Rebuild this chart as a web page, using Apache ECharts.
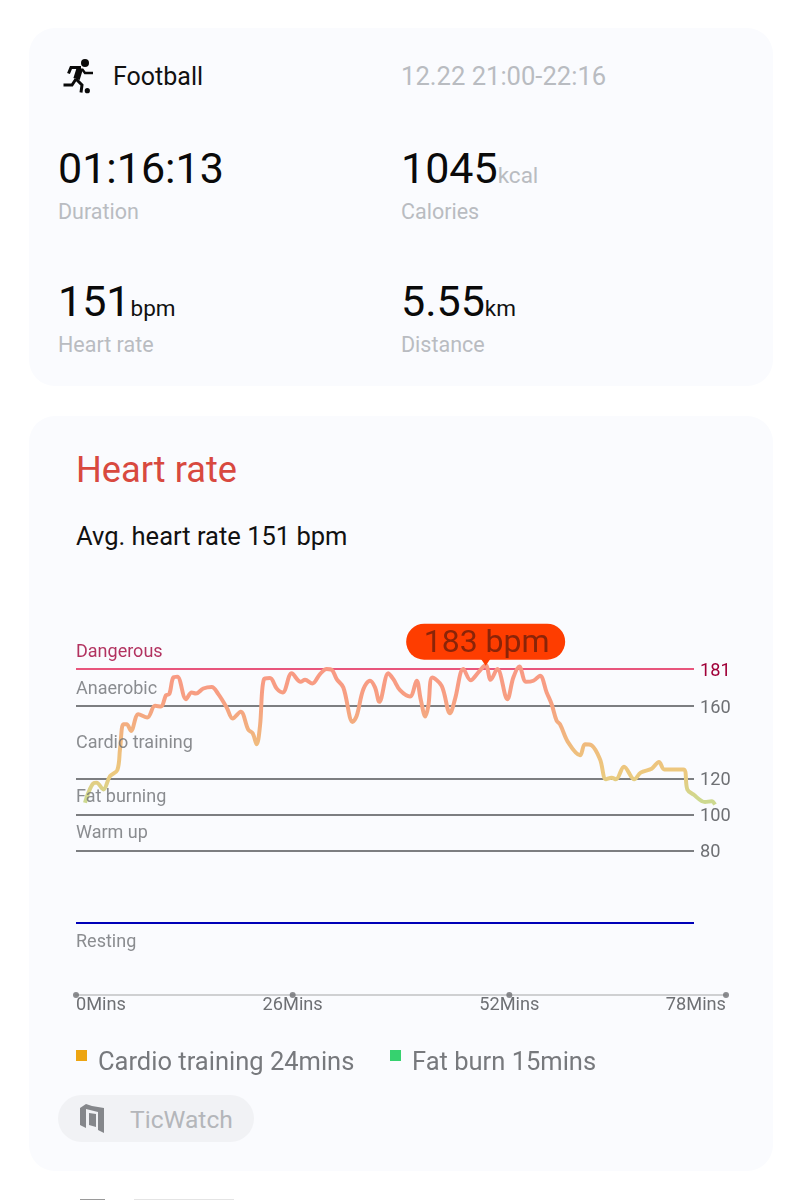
<!DOCTYPE html>
<html><head><meta charset="utf-8">
<script src="https://cdn.jsdelivr.net/npm/echarts@6/dist/echarts.min.js"></script>
<style>
html,body{margin:0;padding:0;background:#fff;width:802px;height:1200px;overflow:hidden;font-family:Roboto,sans-serif}
.card{position:absolute;left:29px;width:744px;background:#fafbfe;border-radius:26px}
.t{position:absolute;white-space:nowrap;line-height:1}
.big{font-size:43px;color:#0a0a0a}
.unit{font-size:22.5px}
.cap{font-size:21.5px;color:#b9bcc1}
#chart{position:absolute;left:0;top:0;width:802px;height:1200px}
.sq{position:absolute;width:11px;height:11px}
</style></head><body>
<div class="card" style="top:28px;height:358px"></div>
<div class="card" style="top:416px;height:755px"></div>
<div style="position:absolute;left:80px;top:1199px;width:25px;height:1px;background:#9a9a9a"></div>
<div style="position:absolute;left:134px;top:1199px;width:100px;height:1px;background:#e4e4e4"></div>
<svg style="position:absolute;left:62px;top:59px" width="34" height="36" viewBox="0 0 34 36" fill="none" stroke="#0a0a0a" stroke-width="3" stroke-linejoin="miter">
<circle cx="23" cy="4" r="4" fill="#0a0a0a" stroke="none"/><circle cx="25.3" cy="31.7" r="2.6" fill="#0a0a0a" stroke="none"/>
<path d="M6.5 14.5 L9 8.5 L19 8.5"/><path d="M18 9 L14.5 20" stroke-width="6.5"/><path d="M20 10 L23 14 L31 14" stroke-width="2.4"/>
<path d="M14 20 L10 26 L1.5 26"/><path d="M14 20 L20 26 L19 33.5"/>
</svg>
<div class="t" style="left:113px;top:64px;font-size:25px;color:#111">Football</div>
<div class="t" style="left:401px;top:64px;font-size:25.6px;color:#b9bcc1">12.22 21:00-22:16</div>
<div class="t big" style="left:58px;top:147px">01:16:13</div>
<div class="t big" style="left:401px;top:147px">1045<span class="unit" style="color:#b9bcc1">kcal</span></div>
<div class="t cap" style="left:58px;top:201px">Duration</div>
<div class="t cap" style="left:401px;top:201px">Calories</div>
<div class="t big" style="left:58px;top:280px">151<span class="unit" style="color:#111">bpm</span></div>
<div class="t big" style="left:401px;top:280px">5.55<span class="unit" style="color:#111">km</span></div>
<div class="t cap" style="left:58px;top:334px">Heart rate</div>
<div class="t cap" style="left:401px;top:334px">Distance</div>
<div class="t" style="left:76px;top:452px;font-size:36.2px;color:#d8493f">Heart rate</div>
<div class="t" style="left:76px;top:524px;font-size:25.5px;color:#111">Avg. heart rate 151 bpm</div>
<div id="chart"></div>
<div class="sq" style="left:76px;top:1050px;background:#eda512"></div>
<div class="t" style="left:98px;top:1049px;font-size:25.5px;color:#77797d">Cardio training 24mins</div>
<div class="sq" style="left:390px;top:1050px;background:#36d26f"></div>
<div class="t" style="left:412px;top:1049px;font-size:25.5px;color:#77797d">Fat burn 15mins</div>
<div style="position:absolute;left:58px;top:1095px;width:196px;height:47px;border-radius:24px;background:#f1f2f5"></div>
<svg style="position:absolute;left:79px;top:1103px" width="26" height="31" viewBox="0 0 26 31" fill="#85878b">
<path d="M1 5 L7 1 L13 3 L25 5 L25 30 L19 27 L19 9 L7 6 L7 25 L1 22 Z"/><path d="M10 10 L17 11 L17 24 L10 22 Z"/>
</svg>
<div class="t" style="left:130px;top:1108px;font-size:24.6px;color:#b4b6ba">TicWatch</div>
<script>
const minutes=[1.08,1.48,2.08,2.48,3.28,4.08,4.96,5.28,5.68,6.08,6.6,7.48,8.56,9.48,10.2,10.8,11.2,11.68,12.16,13.2,13.88,14.4,15.28,16.28,17.08,18.08,18.8,19.76,20.68,21.2,21.68,22.08,22.56,23.28,24.08,24.8,25.88,26.96,27.48,28.36,29.28,30.08,30.68,31.28,32.08,33.2,33.68,34.48,35.28,35.88,36.4,37.48,38.08,38.88,40.08,40.88,41.36,41.92,42.28,42.76,43.88,44.88,45.48,46.48,47.36,48.28,49.16,49.76,50.56,51.76,52.48,53.2,54,54.88,55.68,56.48,57.08,57.68,58.08,59.08,60.48,61.08,61.88,62.88,63.6,64.28,64.8,65.76,67,67.76,69.08,69.96,70.6,72.88,73.36,74.08,75.48,76.28,76.68];
const bpm=[106.5,112,117.2,117.6,113.9,121.3,124.6,136.1,150,150,146.3,155.6,153.7,160.2,159.8,166.1,166.7,175.9,176.3,163.9,167.6,167,169.8,170.7,166.7,159.3,153.2,156.9,146.9,145,138.9,149.1,175,175.6,169.8,167.6,178.2,173.5,174.6,172.6,177.8,180.6,180.2,175,170.4,151.3,154.6,169.4,174.1,170.4,162.4,178.2,175,168.9,165.4,174.1,163.9,154.3,160.2,175.9,171.3,156.1,163.9,180.6,174.4,178.7,182.8,174.6,180.6,163.9,175.9,182,173.5,174.1,176.9,167.6,161.1,151.9,150,139.8,132.8,138.9,138.3,130.6,119.5,120.4,119.5,126.5,119.5,123.2,125.4,129.1,125,125,113.9,111.1,106.9,107.4,105.6];
const zoneLimits=[181,160,120,100,80,40];
const limitLabels=['181','160','120','100','80',''];
const limitColors=['#e8557c','#7c7e81','#7c7e81','#7c7e81','#7c7e81','#0000b8'];
const labelColors=['#a00038','#6e7074','#6e7074','#6e7074','#6e7074','#6e7074'];
const zoneNames=['Dangerous','Anaerobic','Cardio training','Fat burning','Warm up','Resting'];
const zoneLabelY=[190.5,170,140,110,90,29.5];
const xTicks=[0,26,52,78];
const limitEnd=74.16;
const peak=[49.16,183];

const chart=echarts.init(document.getElementById('chart'),null,{renderer:'canvas',width:802,height:1200});
chart.setOption({
 animation:false,
 backgroundColor:'transparent',
 grid:{left:76,right:76,top:634,bottom:205},
 xAxis:{type:'value',min:0,max:78,interval:26,
  axisLine:{show:true,lineStyle:{color:'#cfd0d2',width:2}},
  axisTick:{show:false},splitLine:{show:false},
  axisLabel:{formatter:v=>v+'Mins',fontFamily:'Roboto',fontSize:18.2,color:'#6e7074',margin:1,alignMinLabel:'left',alignMaxLabel:'right',hideOverlap:false}},
 yAxis:{type:'value',min:0,max:200,show:false},
 visualMap:{show:false,type:'continuous',seriesIndex:0,dimension:1,min:108,max:180,
  inRange:{color:['#cdd98f','#ecc97e','#efbd7e','#f3ac80','#f79e82','#f89a84']}},
 series:[
  {name:'Heart rate',type:'line',z:5,data:minutes.map((m,i)=>[m,bpm[i]]),smooth:0.35,symbol:'none',
   lineStyle:{width:4},
   markPoint:{silent:true,z:8,data:[{coord:peak,symbol:'triangle',symbolRotate:180,symbolSize:[11,8],symbolOffset:[0,-3],
     itemStyle:{color:'#fe3d00'},
     label:{show:true,position:'top',distance:-2,formatter:peak[1]+' bpm',fontFamily:'Roboto',fontSize:32,color:'#8a2408',
       backgroundColor:'#fe3d00',borderRadius:18,padding:[4,16,0,18],height:32,lineHeight:32,width:125,align:'center'}}]}},
  {name:'Limits',type:'line',z:3,data:[],symbol:'none',
   markLine:{silent:true,symbol:'none',animation:false,precision:0,
    data:zoneLimits.map((v,i)=>[
     {coord:[0,v],lineStyle:{color:limitColors[i],width:2,type:'solid'},
      label:{show:!!limitLabels[i],position:'end',formatter:limitLabels[i],distance:6,fontFamily:'Roboto',fontSize:18.2,color:labelColors[i],offset:[0,i==0?3:2]}},
     {coord:[limitEnd,v]}])}},
  {name:'Zones',type:'scatter',z:6,symbolSize:0,silent:true,clip:false,
   data:zoneNames.map((n,i)=>({name:n,value:[0,zoneLabelY[i]],
     label:{show:true,position:'right',distance:0,offset:[0,1],formatter:n,fontFamily:'Roboto',fontSize:18,color:labelColors[i]}}))},
  {name:'Ticks',type:'scatter',z:6,symbol:'circle',symbolSize:6,silent:true,clip:false,
   itemStyle:{color:'#6f7174'},data:xTicks.map(t=>[t,0])}
 ]
});
</script>
</body></html>
